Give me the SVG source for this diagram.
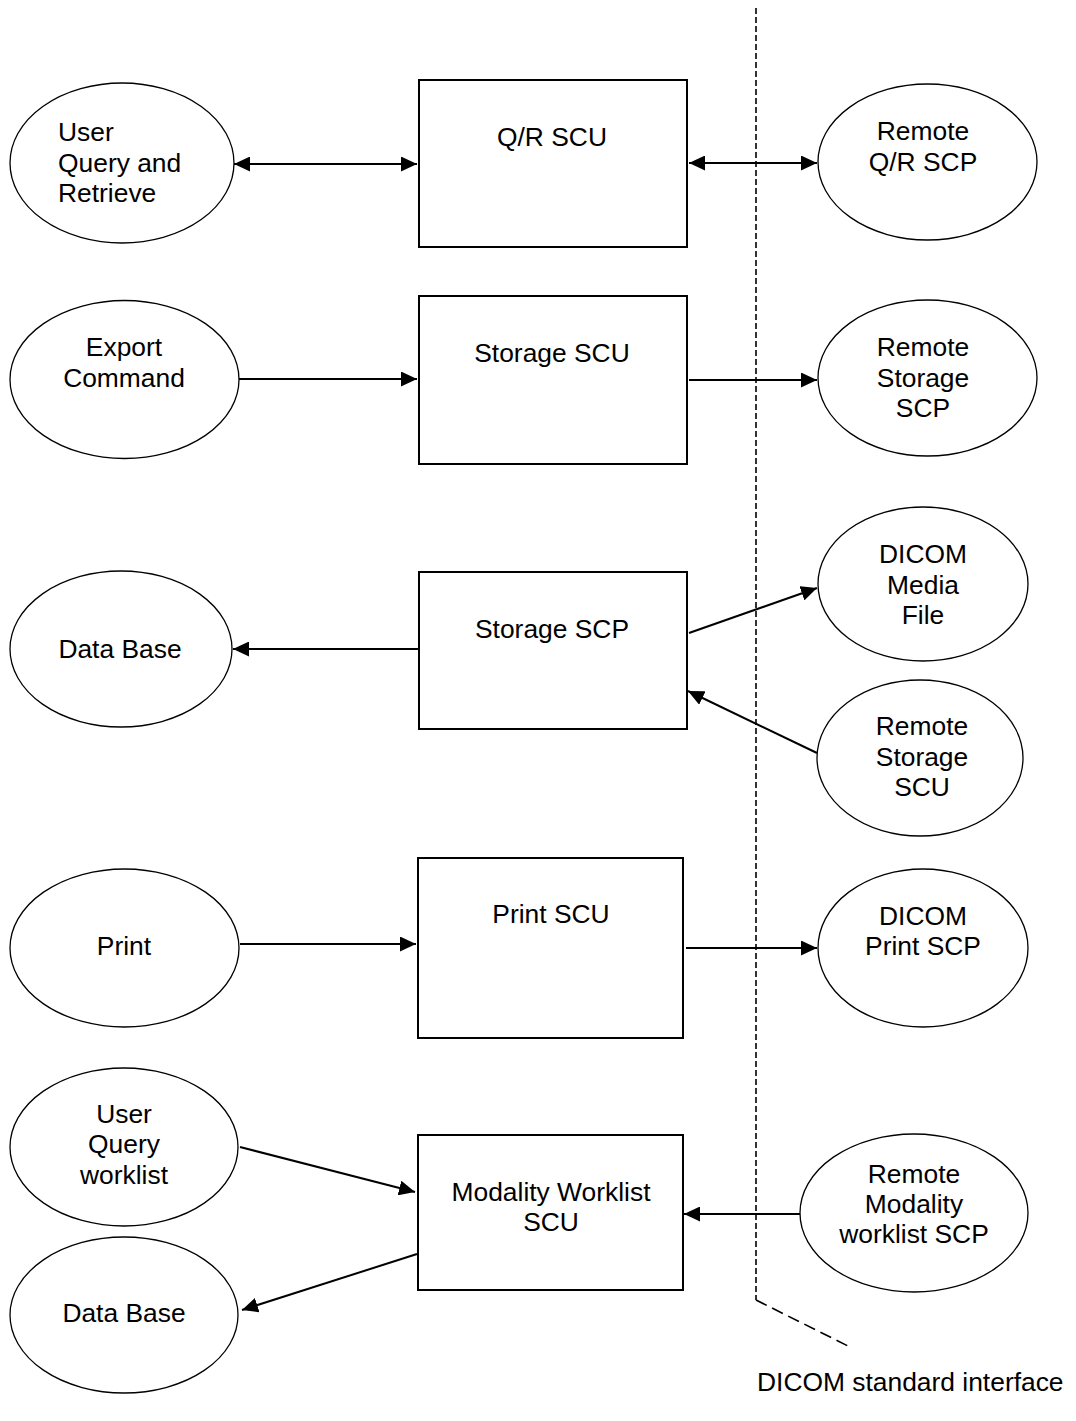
<svg xmlns="http://www.w3.org/2000/svg" width="1076" height="1421" viewBox="0 0 1076 1421">
<style>
text{font-family:"Liberation Sans",Arial,sans-serif;font-size:26.4px;fill:#000}
.c{text-anchor:middle}
.box{fill:#fff;stroke:#000;stroke-width:2}
.ell{fill:#fff;stroke:#000;stroke-width:1.3}
.con{stroke:#000;stroke-width:2;fill:none}
.dash{stroke:#000;stroke-width:1.6;fill:none}
</style>
<defs>
<marker id="ah" viewBox="0 0 16 15" refX="16" refY="7.5" markerWidth="16" markerHeight="15" orient="auto-start-reverse" markerUnits="userSpaceOnUse"><path d="M0,0 L16,7.5 L0,15 z" fill="#000"/></marker>
</defs>
<rect width="1076" height="1421" fill="#fff"/>

<g id="boundary">
<path class="dash" d="M756,8 V1300" stroke-dasharray="6,3"/>
<path class="dash" d="M756,1300 L850,1347" stroke-dasharray="12,6"/>
<text id="boundary-label" x="757" y="1391">DICOM standard interface</text>
</g>

<g id="connectors">
<line class="con" x1="234" y1="164" x2="417" y2="164" marker-start="url(#ah)" marker-end="url(#ah)"/>
<line class="con" x1="689" y1="163" x2="817" y2="163" marker-start="url(#ah)" marker-end="url(#ah)"/>
<line class="con" x1="239" y1="379" x2="417" y2="379" marker-end="url(#ah)"/>
<line class="con" x1="689" y1="380" x2="817" y2="380" marker-end="url(#ah)"/>
<line class="con" x1="419" y1="649" x2="233" y2="649" marker-end="url(#ah)"/>
<line class="con" x1="689" y1="633" x2="817" y2="588" marker-end="url(#ah)"/>
<line class="con" x1="817" y1="753" x2="688" y2="691" marker-end="url(#ah)"/>
<line class="con" x1="240" y1="944" x2="416" y2="944" marker-end="url(#ah)"/>
<line class="con" x1="686" y1="948" x2="817" y2="948" marker-end="url(#ah)"/>
<line class="con" x1="240" y1="1147" x2="415" y2="1192" marker-end="url(#ah)"/>
<line class="con" x1="417" y1="1254" x2="242" y2="1310" marker-end="url(#ah)"/>
<line class="con" x1="800" y1="1214" x2="684" y2="1214" marker-end="url(#ah)"/>
</g>

<g id="qr-scu"><rect class="box" x="419" y="80" width="268" height="167"/><text class="c" x="552" y="146">Q/R SCU</text></g>
<g id="storage-scu"><rect class="box" x="419" y="296" width="268" height="168"/><text class="c" x="552" y="362">Storage SCU</text></g>
<g id="storage-scp"><rect class="box" x="419" y="572" width="268" height="157"/><text class="c" x="552" y="638">Storage SCP</text></g>
<g id="print-scu"><rect class="box" x="418" y="858" width="265" height="180"/><text class="c" x="551" y="923">Print SCU</text></g>
<g id="mwl-scu"><rect class="box" x="418" y="1135" width="265" height="155"/><text class="c" x="551" y="1201">Modality Worklist</text><text class="c" x="551" y="1231">SCU</text></g>

<g id="user-qr"><ellipse class="ell" cx="122" cy="163" rx="112" ry="80"/><text x="58" y="141">User</text><text x="58" y="172">Query and</text><text x="58" y="202">Retrieve</text></g>
<g id="export-command"><ellipse class="ell" cx="124.5" cy="379.5" rx="114.5" ry="79"/><text class="c" x="124" y="356">Export</text><text class="c" x="124" y="387">Command</text></g>
<g id="data-base-1"><ellipse class="ell" cx="121" cy="649" rx="111" ry="78"/><text class="c" x="120" y="658">Data Base</text></g>
<g id="print"><ellipse class="ell" cx="124.5" cy="948" rx="114.5" ry="79"/><text class="c" x="124" y="955">Print</text></g>
<g id="user-query-worklist"><ellipse class="ell" cx="124" cy="1147" rx="114" ry="79"/><text class="c" x="124" y="1123">User</text><text class="c" x="124" y="1153">Query</text><text class="c" x="124" y="1184">worklist</text></g>
<g id="data-base-2"><ellipse class="ell" cx="124" cy="1315" rx="114" ry="78"/><text class="c" x="124" y="1322">Data Base</text></g>

<g id="remote-qr-scp"><ellipse class="ell" cx="927.5" cy="162" rx="109.5" ry="78"/><text class="c" x="923" y="140">Remote</text><text class="c" x="923" y="171">Q/R SCP</text></g>
<g id="remote-storage-scp"><ellipse class="ell" cx="927.5" cy="378" rx="109.5" ry="78"/><text class="c" x="923" y="356">Remote</text><text class="c" x="923" y="387">Storage</text><text class="c" x="923" y="417">SCP</text></g>
<g id="dicom-media-file"><ellipse class="ell" cx="923" cy="584" rx="105" ry="77"/><text class="c" x="923" y="563">DICOM</text><text class="c" x="923" y="594">Media</text><text class="c" x="923" y="624">File</text></g>
<g id="remote-storage-scu"><ellipse class="ell" cx="920" cy="758" rx="103" ry="78"/><text class="c" x="922" y="735">Remote</text><text class="c" x="922" y="766">Storage</text><text class="c" x="922" y="796">SCU</text></g>
<g id="dicom-print-scp"><ellipse class="ell" cx="923" cy="948" rx="105" ry="79"/><text class="c" x="923" y="925">DICOM</text><text class="c" x="923" y="955">Print SCP</text></g>
<g id="remote-mwl-scp"><ellipse class="ell" cx="914" cy="1213" rx="114" ry="79"/><text class="c" x="914" y="1183">Remote</text><text class="c" x="914" y="1213">Modality</text><text class="c" x="914" y="1243">worklist SCP</text></g>
</svg>
